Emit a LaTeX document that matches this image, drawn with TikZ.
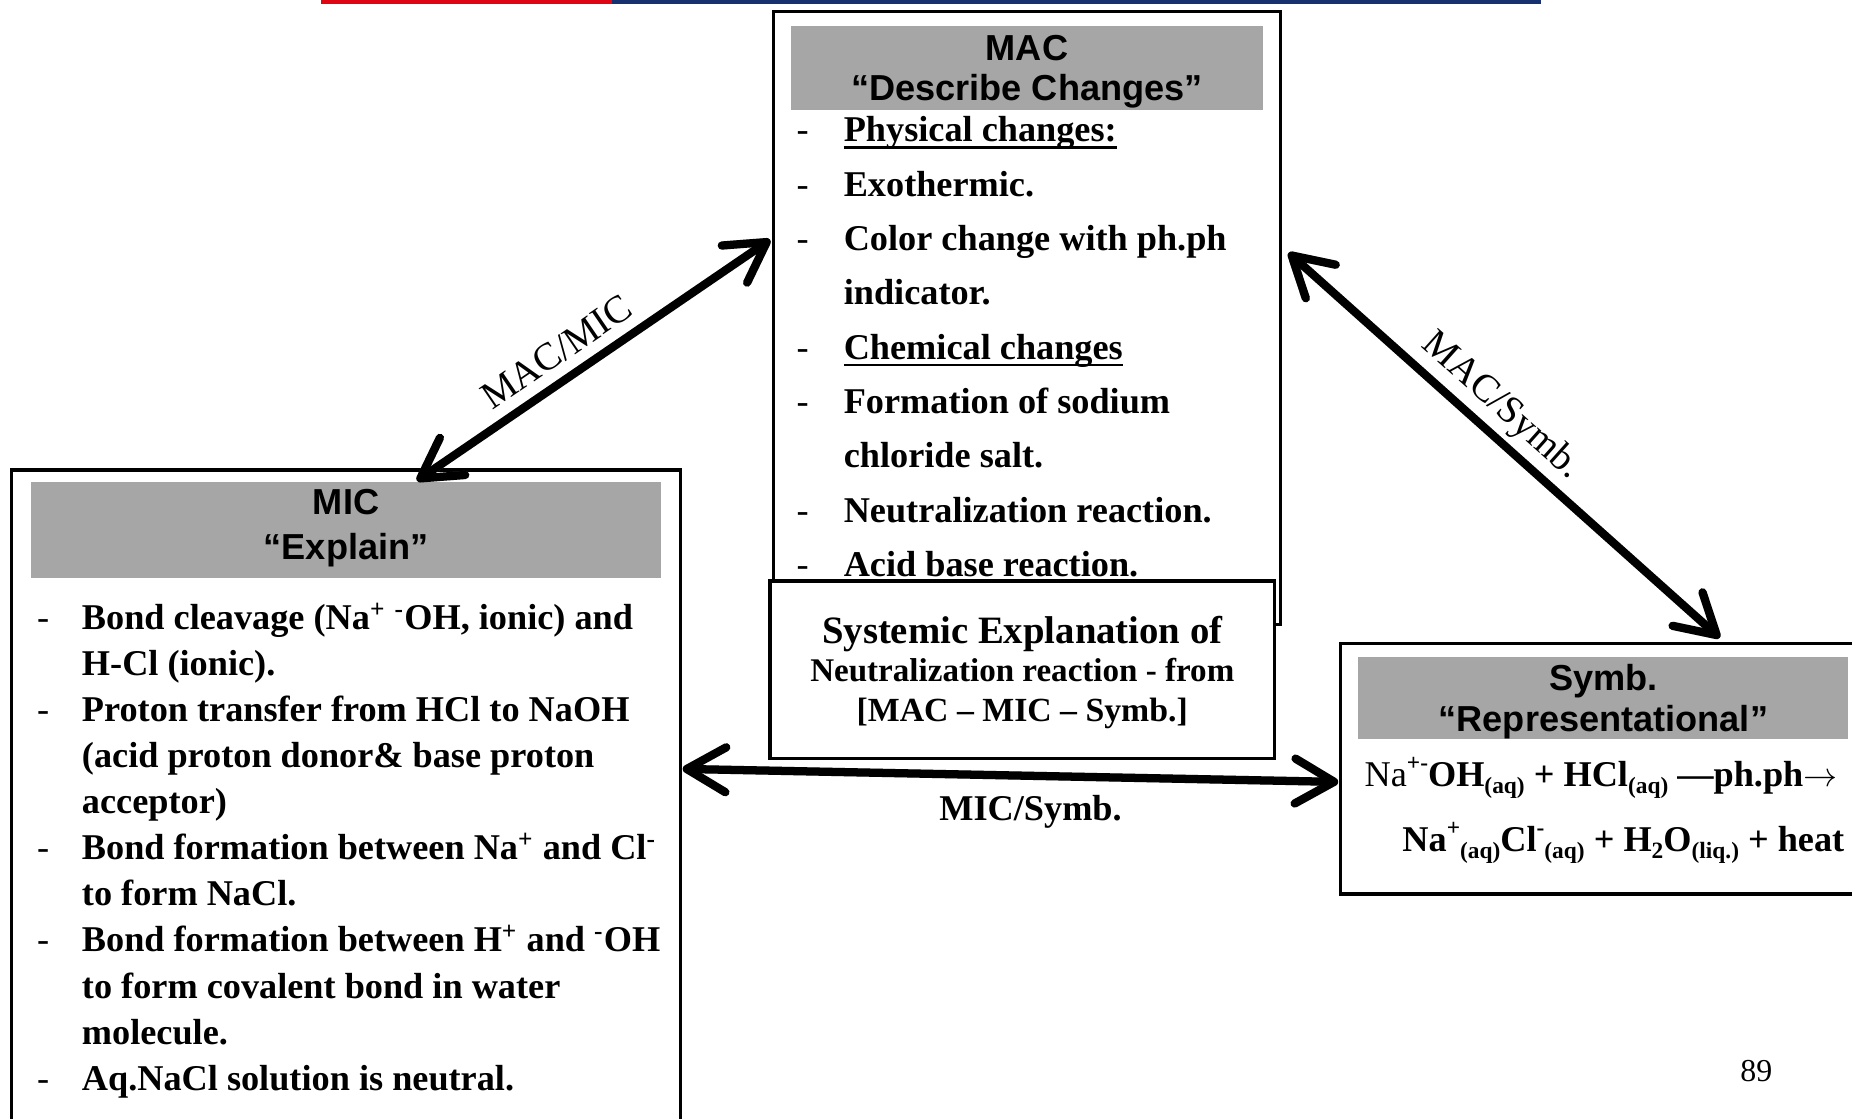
\documentclass[tikz,border=0pt]{standalone}
\usepackage{fontspec}
\setmainfont{Liberation Serif}
\setsansfont{Liberation Sans}
\usetikzlibrary{arrows.meta,calc,fit}

\definecolor{hdrgray}{RGB}{166,166,166}
\definecolor{rulered}{RGB}{222,6,18}
\definecolor{ruleblue}{RGB}{22,48,112}

% bold body text with a chosen line pitch
\newcommand\bodyat[1]{\fontsize{15.35pt}{#1}\selectfont\bfseries}
% heavy underline that runs through the descenders
\newcommand\thickunder[1]{\setbox0\hbox{#1}\rlap{\rule[-3.1pt]{\wd0}{1.1pt}}\box0}
\newcommand\dashmark{{\mdseries -}}
% small raised / lowered marks used in the equations
\newcommand\sbs[1]{\raisebox{-0.2em}{\fontsize{9.9pt}{10pt}\selectfont #1}}
\newcommand\sps[1]{\raisebox{0.45em}{\fontsize{9.9pt}{10pt}\selectfont #1}}

\begin{document}
\begin{tikzpicture}[x=0.5pt,y=-0.5pt,
  box/.style={draw=black,line width=1.4pt,fill=white,inner sep=0pt,outer sep=0pt},
  hdr/.style={fill=hdrgray,draw=none,inner sep=0pt,outer sep=0pt},
  hdrtext/.style={font=\fontsize{15.3pt}{17pt}\selectfont\sffamily\bfseries,inner sep=0pt,anchor=base},
  txt/.style={inner sep=0pt,anchor=base west},
  systxt/.style={inner sep=0pt,anchor=base},
  tipbarb/.tip={Straight Barb[length=16.5pt,width=19pt,round]},
  link/.style={line width=3.5pt,line cap=round,tipbarb-tipbarb},
  linkshade/.style={link,draw=black!45,opacity=0.45,shift={(2.5,3.5)}},
  lbl/.style={inner sep=0pt,font=\fontsize{16.4pt}{19pt}\selectfont}
]
\useasboundingbox (0,0) rectangle (1568,947);
\clip (0,0) rectangle (1568,947);
\fill[white] (0,0) rectangle (1568,947);

% coloured rule along the top edge
\draw[rulered,line width=1.5pt] (272,1.5) -- (518,1.5);
\draw[ruleblue,line width=1.5pt] (518,1.5) -- (1305,1.5);

% ---- MAC: macroscopic level ----
\node[box,fit={(655,10) (1084,529)}] (mac) {};
\node[hdr,fit={(670,22) (1069,93)}] (machdr) {};
\node[hdrtext] (mact1) at (869.5,51) {MAC};
\node[hdrtext] (mact2) at (869.5,85) {“Describe Changes”};
\node[txt] (maclist) at (674,120) {\bodyat{23pt}%
  \begin{tabular}[t]{@{}p{20pt}@{}l@{}}
  \dashmark & \thickunder{Physical changes:}\\
  \dashmark & Exothermic.\\
  \dashmark & Color change with ph.ph\\
            & indicator.\\
  \dashmark & \thickunder{Chemical changes}\\
  \dashmark & Formation of sodium\\
            & chloride salt.\\
  \dashmark & Neutralization reaction.\\
  \dashmark & Acid base reaction.
  \end{tabular}};

% ---- MIC: microscopic level ----
\node[box,fit={(10,398) (576,990)}] (mic) {};
\node[hdr,fit={(26,408) (560,489)}] (michdr) {};
\node[hdrtext] (mict1) at (293,436) {MIC};
\node[hdrtext] (mict2) at (293,474) {“Explain”};
\node[txt] (miclist) at (31,533) {\bodyat{19.5pt}%
  \begin{tabular}[t]{@{}p{19pt}@{}l@{}}
  \dashmark & Bond cleavage (Na\textsuperscript{+} \textsuperscript{-}OH, ionic) and\\
            & H-Cl (ionic).\\
  \dashmark & Proton transfer from HCl to NaOH\\
            & (acid proton donor\& base proton\\
            & acceptor)\\
  \dashmark & Bond formation between Na\textsuperscript{+} and Cl\textsuperscript{-}\\
            & to form NaCl.\\
  \dashmark & Bond formation between H\textsuperscript{+} and \textsuperscript{-}OH\\
            & to form covalent bond in water\\
            & molecule.\\
  \dashmark & Aq.NaCl solution is neutral.
  \end{tabular}};

% ---- Symb: symbolic level ----
\node[box,fit={(1135,545) (1600,757)}] (symb) {};
\node[hdr,fit={(1150,556) (1565,626)}] (symbhdr) {};
\node[hdrtext] (symbt1) at (1357.5,585) {Symb.};
\node[hdrtext] (symbt2) at (1357.5,619) {“Representational”};
\node[txt,font=\bodyat{19pt}] (eq1) at (1155,666)
  {{\mdseries Na}\sps{+-}OH\sbs{(aq)} + HCl\sbs{(aq)} —ph.ph$\rightarrow$};
\node[txt,font=\bodyat{19pt}] (eq2) at (1187,721)
  {Na\sps{+}\sbs{(aq)}Cl\sps{-}\sbs{(aq)} + H\sbs{2}O\sbs{(liq.)} + heat};

% ---- central summary box ----
\node[box,fit={(652,492) (1079,642)}] (sys) {};
\node[systxt,font=\fontsize{16.4pt}{19pt}\selectfont\bfseries] (sys1) at (865.5,545) {Systemic Explanation of};
\node[systxt,font=\fontsize{14pt}{17pt}\selectfont\bfseries] (sys2) at (865.5,577) {Neutralization reaction - from};
\node[systxt,font=\fontsize{14.3pt}{17pt}\selectfont\bfseries] (sys3) at (865.5,611) {[MAC – MIC – Symb.]};

% ---- two-way links between the levels ----
\draw[linkshade] ($(mic.north west)!0.606!(mic.north east)+(0,9)$) -- ($(mac.north west)+(-3,193)$);
\draw[linkshade] ($(mac.north east)+(7,204)$) -- ($(symb.north west)+(321,-5)$);
\draw[linkshade] ($(mic.north east)+(2,253)$) -- ($(symb.north west)+(-2,117)$);

\draw[link] ($(mic.north west)!0.606!(mic.north east)+(0,9)$) -- ($(mac.north west)+(-3,193)$);
\draw[link] ($(mac.north east)+(7,204)$) -- ($(symb.north west)+(321,-5)$);
\draw[link] ($(mic.north east)+(2,253)$) -- ($(symb.north west)+(-2,117)$);

\node[lbl,rotate=34.3] (lblmacmic) at (471,298) {MAC/MIC};
\node[lbl,rotate=-41.8] (lblmacsymb) at (1271,344) {MAC/Symb.};
\node[systxt,font=\bodyat{18pt}] (lblmicsymb) at (872.5,695) {MIC/Symb.};

% page number
\node[inner sep=0pt,font=\fontsize{13.5pt}{16pt}\selectfont] (pgnum) at (1487,907) {89};
\end{tikzpicture}
\end{document}
